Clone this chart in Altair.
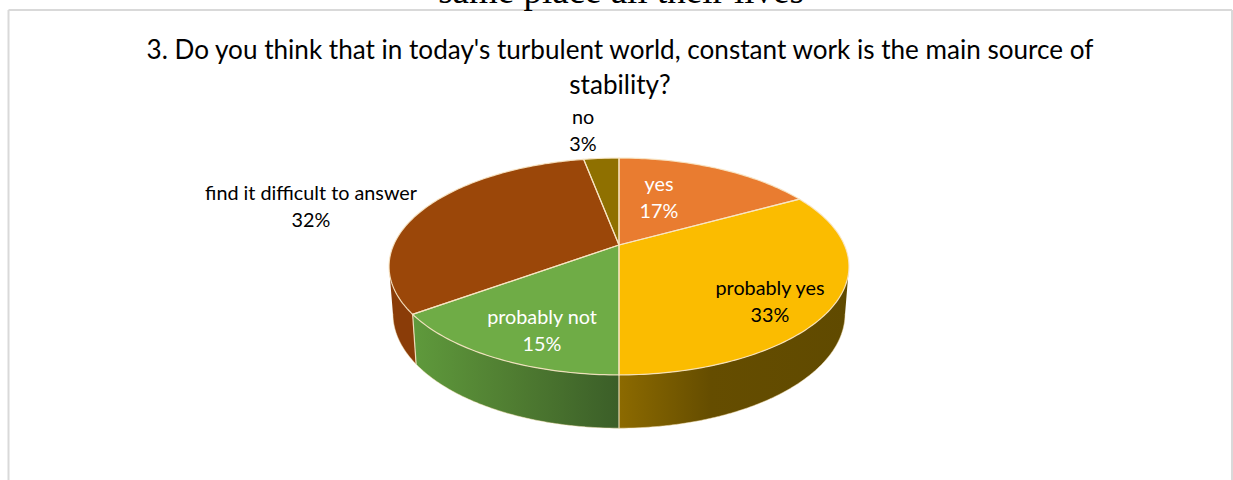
import math
import altair as alt
import pandas as pd

# Survey answers, listed clockwise from twelve o'clock
categories = ["yes", "probably yes", "probably not", "find it difficult to answer", "no"]
shares = [17, 33, 15, 32, 3]
top_colors = ["#E97C30", "#FBBC00", "#6FAC46", "#9B4709", "#8F7000"]
label_colors = ["#FFFFFF", "#000000", "#FFFFFF", "#000000", "#000000"]
label_x = [659, 770, 542, 311, 583]
label_y = [185, 289, 318, 194, 118]

title_lines = ["3. Do you think that in today's turbulent world, constant work is the main source of", "stability?"]
cut_off_caption = "same place all their lives"

# Tilted disc: a projective mapping of the unit circle onto the page
CX, APEX_Y, BOTTOM_Y = 619.0, 245.0, 291.0
TILT = 0.198
TOP_A, TOP_B = 225.4, 104.2
BOT_A, BOT_B = 221.6, 110.0


def rim(theta_deg, a, b, cy):
    t = math.radians(theta_deg)
    u, v = math.sin(t), math.cos(t)
    d = 1 + TILT * v
    return CX + a * u / d, cy - b * v / d


def top_rim(theta):
    return rim(theta, TOP_A, TOP_B, APEX_Y)


def bottom_rim(theta):
    return rim(theta, BOT_A, BOT_B, BOTTOM_Y)


def sweep(start, end, step=1.0):
    n = max(2, int(abs(end - start) / step) + 1)
    return [start + (end - start) * i / (n - 1) for i in range(n)]


def columns(polygon):
    """Turn a polygon into x / upper / lower rows usable by an area mark."""
    xs = sorted({round(p[0], 2) for p in polygon})
    rows = []
    closed = polygon + [polygon[0]]
    for x in xs:
        hits = []
        for (x0, y0), (x1, y1) in zip(closed, closed[1:]):
            lo, hi = min(x0, x1), max(x0, x1)
            if lo - 0.011 <= x <= hi + 0.011:
                if abs(x1 - x0) < 1e-9:
                    hits += [y0, y1]
                else:
                    f = min(1.0, max(0.0, (x - x0) / (x1 - x0)))
                    hits.append(y0 + (y1 - y0) * f)
        rows.append({"x": x, "y": min(hits), "y2": max(hits)})
    return rows


# Slice boundaries in degrees clockwise from the top
edges = [0.0]
for s in shares:
    edges.append(edges[-1] + s * 3.6)

x_scale = alt.Scale(domain=[0, 1233], range=[0, 1233])
y_scale = alt.Scale(domain=[0, 480], range=[0, 480])
X = alt.X("x:Q", scale=x_scale, axis=None)
Y = alt.Y("y:Q", scale=y_scale, axis=None)

layers = []


def gradient(stops):
    return alt.Gradient(
        gradient="linear", x1=0, x2=1, y1=0, y2=0,
        stops=[alt.GradientStop(offset=o, color=c) for o, c in stops],
    )


def wall(start, end, fill):
    poly = [top_rim(t) for t in sweep(start, end)] + [bottom_rim(t) for t in sweep(end, start)]
    return alt.Chart(pd.DataFrame(columns(poly))).mark_area(fill=fill, interpolate="linear").encode(
        x=X, y=Y, y2="y2:Q"
    )


# Side walls: only the part facing the viewer is visible
right_limit = math.degrees(math.acos(-TILT))
left_limit = 360 - right_limit
layers.append(wall(right_limit, edges[2], gradient([(0, "#8C6A00"), (0.4, "#654D00"), (1, "#604A00")])))
layers.append(wall(edges[2], edges[3], gradient([(0, "#5F9A3C"), (0.5, "#4F7C31"), (1, "#3B5E28")])))
layers.append(wall(edges[3], left_limit, "#8A3C08"))

# Top faces and their pale outlines
outline_rows = []
for i, color in enumerate(top_colors):
    poly = [(CX, APEX_Y)] + [top_rim(t) for t in sweep(edges[i], edges[i + 1])]
    layers.append(
        alt.Chart(pd.DataFrame(columns(poly))).mark_area(fill=color, interpolate="linear").encode(x=X, y=Y, y2="y2:Q")
    )
    for k, (px, py) in enumerate(poly + [poly[0]]):
        outline_rows.append({"x": px, "y": py, "group": f"top{i}", "seq": k})

# Seams between walls
for name, theta in [("seam_a", edges[2]), ("seam_b", edges[3])]:
    for k, (px, py) in enumerate([top_rim(theta), bottom_rim(theta)]):
        outline_rows.append({"x": px, "y": py, "group": name, "seq": k})

# Outer edge of the base, fainter than the top outlines
base_rows = []
for k, t in enumerate(sweep(right_limit, left_limit)):
    px, py = bottom_rim(t)
    base_rows.append({"x": px, "y": py, "seq": k})
layers.append(
    alt.Chart(pd.DataFrame(base_rows))
    .mark_line(stroke="#F7E3B8", strokeWidth=1, opacity=0.5)
    .encode(x=X, y=Y, order="seq:Q")
)

layers.append(
    alt.Chart(pd.DataFrame(outline_rows))
    .mark_line(stroke="#F8E6C4", strokeWidth=1.2, opacity=0.9)
    .encode(x=X, y=Y, detail="group:N", order="seq:Q")
)

# Category and percentage labels, two lines each
label_rows = []
for name, share, lx, ly, col in zip(categories, shares, label_x, label_y, label_colors):
    label_rows.append({"x": lx, "y": ly, "text": name, "color": col})
    label_rows.append({"x": lx, "y": ly + 27, "text": f"{share}%", "color": col})
layers.append(
    alt.Chart(pd.DataFrame(label_rows))
    .mark_text(font="Lato", fontSize=19.8, align="center", baseline="middle")
    .encode(x=X, y=Y, text="text:N", color=alt.Color("color:N", scale=None))
)

# Chart title
title_rows = [{"x": 620, "y": 51, "text": title_lines[0]}, {"x": 620, "y": 86, "text": title_lines[1]}]
layers.append(
    alt.Chart(pd.DataFrame(title_rows))
    .mark_text(font="Lato", fontSize=26.1, align="center", baseline="middle", color="#000000")
    .encode(x=X, y=Y, text="text:N")
)

# Last line of the page text above the chart, mostly off the top edge
layers.append(
    alt.Chart(pd.DataFrame([{"x": 621, "y": 3, "text": cut_off_caption}]))
    .mark_text(font="Liberation Serif", fontSize=37, align="center", baseline="alphabetic", color="#000000")
    .encode(x=X, y=Y, text="text:N")
)

# Chart frame, running off the bottom of the page
frame = pd.DataFrame(
    [
        {"x": 8.5, "y": 10, "x2": 1232, "y2": 10},
        {"x": 8.5, "y": 10, "x2": 8.5, "y2": 480},
        {"x": 1232, "y": 10, "x2": 1232, "y2": 480},
    ]
)
layers.insert(
    0,
    alt.Chart(frame).mark_rule(color="#D9D9D9", strokeWidth=2).encode(x=X, y=Y, x2="x2:Q", y2="y2:Q"),
)

chart = (
    alt.layer(*layers)
    .properties(width=1233, height=480, padding=0, autosize=alt.AutoSizeParams(type="none"), background="white")
    .configure_view(stroke=None)
)

chart.save("out.html", embed_options={"renderer": "svg", "actions": False})
